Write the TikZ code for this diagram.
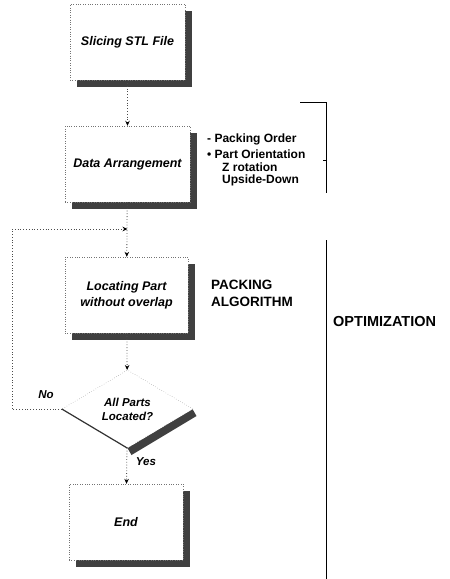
\documentclass[tikz,border=0pt]{standalone}
\usepackage{fontspec}
\setmainfont{Liberation Sans}
\usetikzlibrary{arrows.meta,shapes.geometric,shadows,calc}
\begin{document}
\begin{tikzpicture}[x=1pt,y=-1pt,
  shd/.style={drop shadow={shadow xshift=7pt,shadow yshift=-7pt,fill=black!75,opacity=1}},
  procbox/.style={draw=black!55,dotted,fill=white,shd,minimum width=115pt,minimum height=76pt,inner sep=0pt,
     font=\fontsize{12.5}{16}\selectfont\bfseries\itshape,align=center},
  decbox/.style={diamond,draw=black!55,dotted,fill=white,minimum width=131pt,minimum height=78pt,inner sep=0pt,
     aspect=1.7,font=\fontsize{11.5}{14}\selectfont\bfseries\itshape,align=center},
  conn/.style={draw=black!70,dotted,thick,-{Stealth[length=5pt,width=4.5pt,black]}},
  loopline/.style={draw=black!70,dotted,thick},
  lbl/.style={font=\fontsize{12}{13}\selectfont\bfseries,inner sep=0pt},
  itlbl/.style={font=\fontsize{11.5}{13}\selectfont\bfseries\itshape,inner sep=0pt},
  biglbl/.style={font=\fontsize{13.5}{17}\selectfont\bfseries,inner sep=0pt,align=left},
  brk/.style={draw=black,line width=0.8pt}]
\useasboundingbox (0,0) rectangle (450,579);
\node[procbox] (slice) at (127.5,42) {Slicing STL File};
\node[procbox,minimum width=125pt] (data) at (127.5,164) {Data Arrangement};
\node[procbox,minimum width=123pt] (locate) at (126.5,295) {Locating Part\\without overlap};
% diamond shadow
\coordinate (de) at (192.5,409);
\coordinate (ds) at (127.5,448);
\fill[black!75] (de) -- (ds) -- ($(ds)+(4,7)$) -- ($(de)+(4,7)$) -- cycle;
\node[decbox] (dec) at (127.5,409) {All Parts\\Located?};
\draw[black!80,line width=1.2pt] (dec.west) -- (dec.south);

\node[procbox,minimum width=114pt] (endb) at (126,522) {End};

\draw[conn] (slice) -- (data);
\draw[conn] (data) -- (locate);
\draw[conn] (locate) -- (dec);
\draw[conn] (dec) -- (endb);
\coordinate (mid) at (127.5,229);
\coordinate (lb) at (12,409);
\coordinate (lt) at (12,229);
\draw[loopline] (dec.west) -- (lb) -- (lt);
\draw[conn] (lt) -- (mid);

\node[itlbl] (no) at (46,395) {No};
\node[itlbl] (yes) at (146,462) {Yes};

\node[lbl,anchor=west] (b1) at (207,139) {- Packing Order};
\node[lbl,anchor=west] (b2) at (207,154) {• Part Orientation};
\node[lbl,anchor=west] (b3) at (222,167) {Z rotation};
\node[lbl,anchor=west] (b4) at (222,180) {Upside-Down};

\node[biglbl,anchor=west] (pa) at (211,293) {PACKING\\ALGORITHM};
\node[lbl,font=\fontsize{14.5}{16}\selectfont\bfseries,anchor=west] (opt) at (333,322) {OPTIMIZATION};

\coordinate (t0) at (300,102);
\coordinate (t1) at (326,102);
\coordinate (t2) at (326,193);
\coordinate (tk) at (323,160);
\coordinate (tk2) at (326,160);
\draw[brk] (t0) -- (t1) -- (t2);
\draw[brk] (tk) -- (tk2);
\coordinate (o1) at (326,240);
\coordinate (o2) at (326,579);
\draw[brk] (o1) -- (o2);
\end{tikzpicture}
\end{document}
